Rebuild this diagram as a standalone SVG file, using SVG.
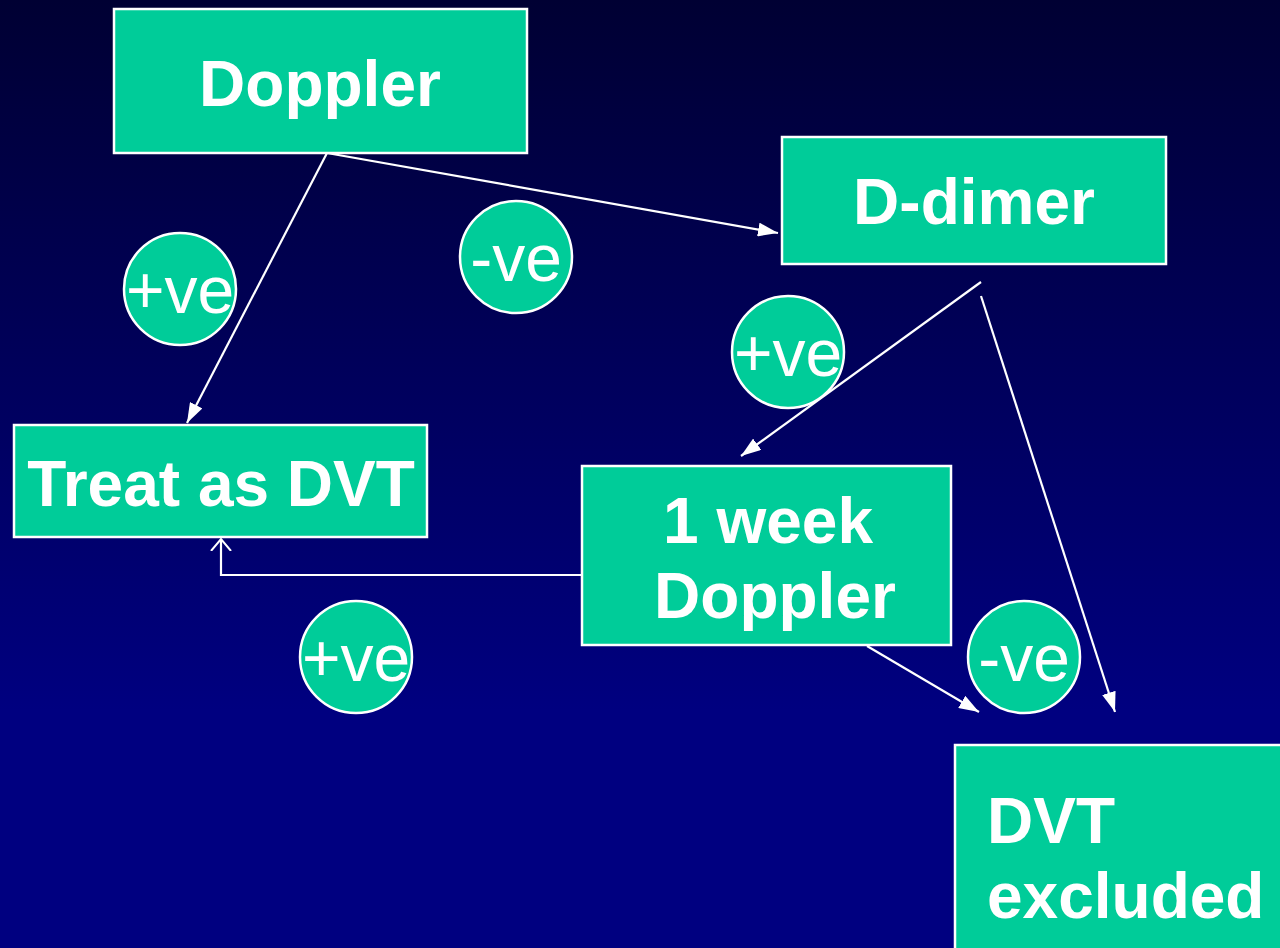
<svg xmlns="http://www.w3.org/2000/svg" width="1280" height="948" viewBox="0 0 1280 948">
  <defs>
    <linearGradient id="bg" x1="0" y1="0" x2="0" y2="1">
      <stop offset="0" stop-color="#000033"/>
      <stop offset="0.75" stop-color="#000080"/>
      <stop offset="1" stop-color="#000080"/>
    </linearGradient>
    <marker id="tri" viewBox="0 0 20 14" refX="20" refY="7" markerWidth="20" markerHeight="14" markerUnits="userSpaceOnUse" orient="auto">
      <path d="M0,0 L20,7 L0,14 Z" fill="#fff"/>
    </marker>
    <marker id="vee" viewBox="0 0 14 22" refX="12" refY="11" markerWidth="14" markerHeight="22" markerUnits="userSpaceOnUse" orient="auto">
      <path d="M0,1 L12,11 L0,21" fill="none" stroke="#fff" stroke-width="2"/>
    </marker>
    <style>
      .box { fill: #00cc99; stroke: #ffffff; stroke-width: 2.5; }
      .lbl { font-family: "Liberation Sans", Arial, sans-serif; font-weight: bold; font-size: 64px; fill: #ffffff; }
      .badge { fill: #00cc99; stroke: #ffffff; stroke-width: 2.5; }
      .blbl { font-family: "Liberation Sans", Arial, sans-serif; font-size: 66px; fill: #ffffff; text-anchor: middle; }
      .edge { fill: none; stroke: #ffffff; stroke-width: 2.2; }
    </style>
  </defs>

  <rect x="0" y="0" width="1280" height="948" fill="url(#bg)"/>

  <g id="connectors">
    <line class="edge" x1="327" y1="153" x2="187" y2="423" marker-end="url(#tri)"/>
    <line class="edge" x1="327" y1="153" x2="778" y2="233" marker-end="url(#tri)"/>
    <line class="edge" x1="981" y1="282" x2="741" y2="456" marker-end="url(#tri)"/>
    <line class="edge" x1="981" y1="296" x2="1115" y2="712" marker-end="url(#tri)"/>
    <line class="edge" x1="867" y1="646" x2="979" y2="712" marker-end="url(#tri)"/>
    <polyline class="edge" points="582,575 221,575 221,539" marker-end="url(#vee)"/>
  </g>

  <g id="doppler">
    <rect class="box" x="114" y="9" width="413" height="144"/>
    <text class="lbl" x="320" y="106" text-anchor="middle">Doppler</text>
  </g>

  <g id="d-dimer">
    <rect class="box" x="782" y="137" width="384" height="127"/>
    <text class="lbl" x="974" y="224" text-anchor="middle">D-dimer</text>
  </g>

  <g id="treat">
    <rect class="box" x="14" y="425" width="413" height="112"/>
    <text class="lbl" x="221" y="506" text-anchor="middle">Treat as DVT</text>
  </g>

  <g id="week-doppler">
    <rect class="box" x="582" y="466" width="369" height="179"/>
    <text class="lbl" x="768" y="543" text-anchor="middle">1 week</text>
    <text class="lbl" x="775" y="618" text-anchor="middle">Doppler</text>
  </g>

  <g id="excluded">
    <rect class="box" x="955" y="745" width="340" height="220"/>
    <text class="lbl" x="987" y="843">DVT</text>
    <text class="lbl" x="987" y="918">excluded</text>
  </g>

  <g id="pos-1">
    <circle class="badge" cx="180" cy="289" r="56"/>
    <text class="blbl" x="180" y="313">+ve</text>
  </g>
  <g id="neg-1">
    <circle class="badge" cx="516" cy="257" r="56"/>
    <text class="blbl" x="516" y="281">-ve</text>
  </g>
  <g id="pos-2">
    <circle class="badge" cx="788" cy="352" r="56"/>
    <text class="blbl" x="788" y="376">+ve</text>
  </g>
  <g id="pos-3">
    <circle class="badge" cx="356" cy="657" r="56"/>
    <text class="blbl" x="356" y="681">+ve</text>
  </g>
  <g id="neg-2">
    <circle class="badge" cx="1024" cy="657" r="56"/>
    <text class="blbl" x="1024" y="681">-ve</text>
  </g>
</svg>
